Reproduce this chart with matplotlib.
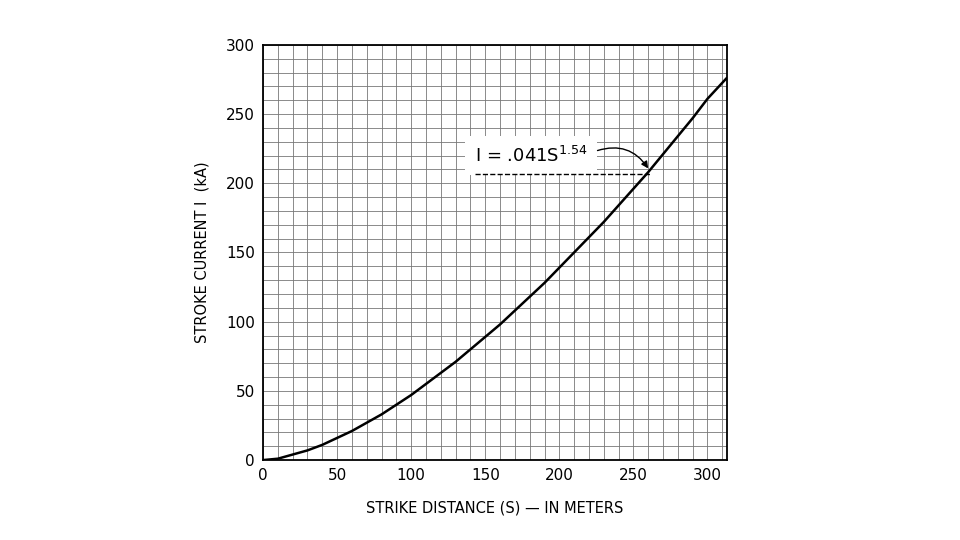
import matplotlib.pyplot as plt
import numpy as np

# values (strike distance m, stroke current kA)
distance = [0, 10, 20, 30, 40, 50, 60, 70, 80, 90, 100, 110, 120, 130, 140, 150,
            160, 170, 180, 190, 200, 210, 220, 230, 240, 250, 260, 270, 280, 290,
            300, 313]
current = [0, 1, 4, 7, 11, 16, 21, 27, 33, 40, 47, 55, 63, 71, 80, 89,
           98, 108, 118, 128, 139, 150, 161, 172, 184, 196, 208, 221, 234, 247,
           261, 276]
x_ticks = [0, 50, 100, 150, 200, 250, 300]
y_ticks = [0, 50, 100, 150, 200, 250, 300]

fig = plt.figure(figsize=(9.6, 5.4), dpi=100)
ax = fig.add_axes([0.274, 0.148, 0.483, 0.769])

ax.set_xticks(np.arange(0, 314, 10), minor=True)
ax.set_yticks(np.arange(0, 301, 10), minor=True)
ax.grid(which='minor', color='#777777', lw=0.6)
ax.grid(which='major', color='#777777', lw=0.6)
ax.set_xticks(x_ticks)
ax.set_yticks(y_ticks)
ax.tick_params(which='both', length=0, labelsize=11, pad=6)
for s in ax.spines.values():
    s.set_linewidth(1.3)

ax.plot(distance, current, color='black', lw=1.8, solid_capstyle='round')
ax.set_xlim(0, 313)
ax.set_ylim(0, 300)

ax.set_xlabel('STRIKE DISTANCE (S) — IN METERS', fontsize=10.5, labelpad=12)
ax.set_ylabel('STROKE CURRENT I  (kA)', fontsize=10.5, labelpad=12)

# annotation
ax.text(143, 220, r'I = .041S$^{1.54}$', fontsize=13, va='center', zorder=5,
        bbox=dict(facecolor='white', edgecolor='none', pad=7))
ax.plot([143, 261], [207, 207], ls='--', color='black', lw=1, zorder=6)
ax.annotate('', xy=(261, 209), xytext=(224, 223), zorder=6,
            arrowprops=dict(arrowstyle='-|>', color='black', lw=1,
                            connectionstyle='arc3,rad=-0.4'))

fig.savefig('out.png', dpi=100, facecolor='white')
